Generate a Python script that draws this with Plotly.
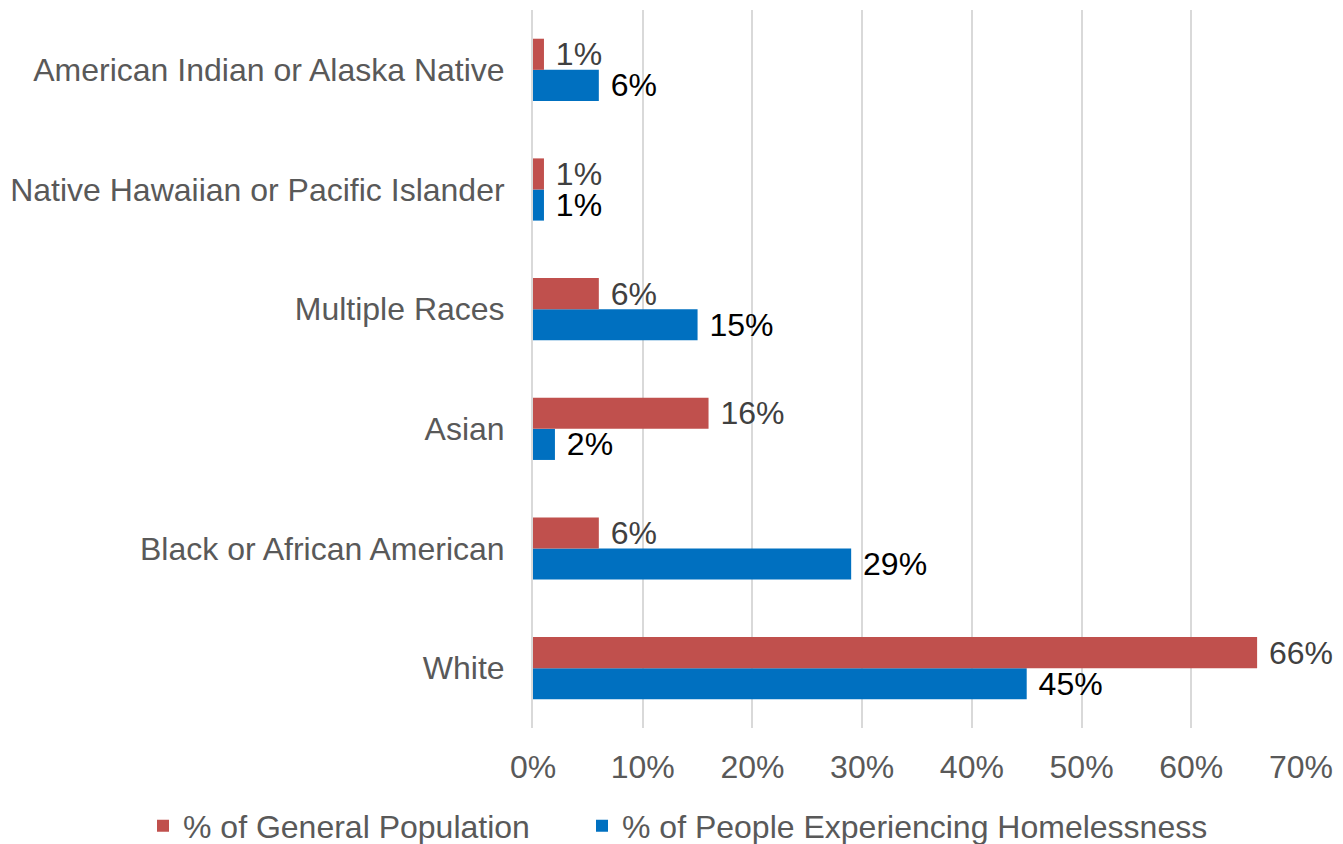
import plotly.graph_objects as go

categories = ["White", "Black or African American", "Asian", "Multiple Races",
              "Native Hawaiian or Pacific Islander", "American Indian or Alaska Native"]
general_pop = [0.66, 0.06, 0.16, 0.06, 0.01, 0.01]
homeless = [0.45, 0.29, 0.02, 0.15, 0.01, 0.06]
tick_vals = [0, 0.1, 0.2, 0.3, 0.4, 0.5, 0.6, 0.7]
tick_text = ["0%", "10%", "20%", "30%", "40%", "50%", "60%", "70%"]

FONT = "Liberation Sans, Arial, sans-serif"
FS = 32
W, H = 1335, 836  # page body adds 8px offset
ML, MR, MT, MB = 525, 42, 2, 116
PW, PH = W - ML - MR, H - MT - MB

fig = go.Figure()
fig.add_trace(go.Bar(
    y=categories, x=homeless, orientation="h",
    name="% of People Experiencing Homelessness",
    marker=dict(color="#0070C0", line=dict(width=0)),
    text=homeless, texttemplate=" %{x:.0%}", textposition="outside",
    textfont=dict(color="#000000", size=FS, family=FONT),
    constraintext="none", cliponaxis=False, legend="legend2",
))
fig.add_trace(go.Bar(
    y=categories, x=general_pop, orientation="h",
    name="% of General Population",
    marker=dict(color="#C0504D", line=dict(width=0)),
    text=general_pop, texttemplate=" %{x:.0%}", textposition="outside",
    textfont=dict(color="#404040", size=FS, family=FONT),
    constraintext="none", cliponaxis=False, legend="legend",
))

leg_y = -(818 - (H - MB)) / PH
common = dict(orientation="h", xref="paper", xanchor="left",
              yref="paper", y=leg_y, yanchor="middle",
              font=dict(size=FS, color="#595959"), itemsizing="constant")

fig.update_layout(
    width=W, height=H,
    barmode="group", bargap=0.48, bargroupgap=0,
    plot_bgcolor="white", paper_bgcolor="white",
    margin=dict(l=ML, r=MR, t=MT, b=MB, autoexpand=False),
    font=dict(family=FONT, size=FS, color="#595959"),
    legend=dict(x=(135 - ML) / PW, **common),
    legend2=dict(x=(574 - ML) / PW, **common),
    showlegend=True,
)
fig.update_xaxes(range=[0, 0.7], tickvals=tick_vals, ticktext=tick_text,
                 showgrid=True, gridcolor="#D9D9D9", gridwidth=2,
                 zeroline=False, showline=False, ticks="",
                 ticklabelstandoff=17, automargin=False,
                 tickfont=dict(size=FS, color="#595959"))
fig.update_yaxes(showline=True, linecolor="#D9D9D9", linewidth=2,
                 ticks="", ticklabelstandoff=20, automargin=False,
                 tickfont=dict(size=FS, color="#595959"))

fig.write_html("out.html")
